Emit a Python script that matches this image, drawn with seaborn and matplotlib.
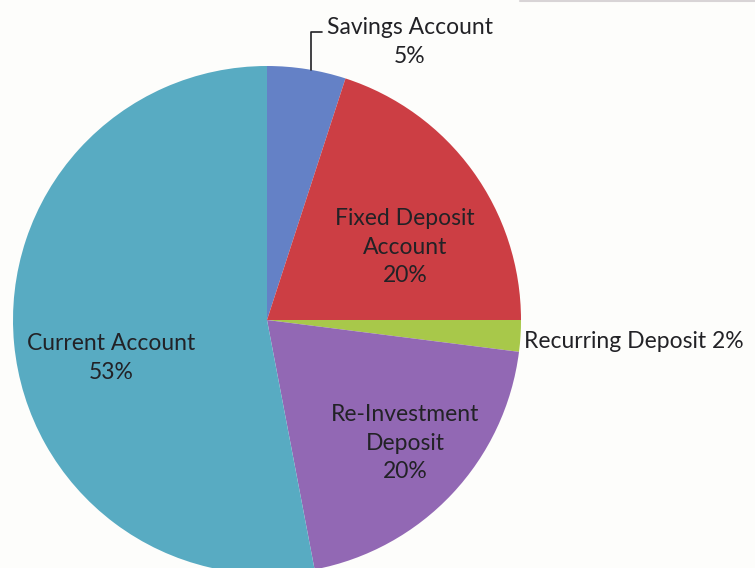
"""Account type share pie chart (scanned-look recreation)."""
import matplotlib
matplotlib.use("Agg")
import matplotlib.pyplot as plt
import seaborn as sns

# data
accounts = ["Savings Account", "Fixed Deposit Account", "Recurring Deposit",
            "Re-Investment Deposit", "Current Account"]
shares = [5, 20, 2, 20, 53]
colors = ["#6481c6", "#cc3e44", "#a8c84a", "#9268b4", "#58abc2"]

W, H = 755, 568
sns.set_theme(style="white")
plt.rcParams["font.family"] = ["Lato", "DejaVu Sans"]


def py(y):
    # pixel row (top-down) -> data y
    return H - y


fig = plt.figure(figsize=(W / 100, H / 100), dpi=100, facecolor="#fdfdfb")
ax = fig.add_axes([0, 0, 1, 1])
ax.set_facecolor("#fdfdfb")
ax.pie(shares, colors=colors, startangle=90, counterclock=False,
       center=(267, py(320)), radius=254,
       wedgeprops={"linewidth": 0, "antialiased": True}, frame=True)
ax.set_xlim(0, W)
ax.set_ylim(0, H)
ax.set_aspect("equal")
ax.axis("off")

txt = dict(color="#222226", fontsize=16.5, ha="center", va="center", linespacing=1.42)
ax.text(410, py(42), "Savings Account\n5%", **txt)
ax.text(405, py(247), "Fixed Deposit\nAccount\n20%", **txt)
ax.text(524, py(341), "Recurring Deposit 2%", **{**txt, "ha": "left"})
ax.text(405, py(443), "Re-Investment\nDeposit\n20%", **txt)
ax.text(111, py(358), "Current Account\n53%", **txt)

# leader line for the small slice
ax.plot([311, 311, 322], [py(70), py(32), py(32)], color="#222226", lw=1.2)

# faint scan artefact along the top-right edge
ax.plot([520, 755], [py(1), py(1)], color="#d8d4d6", lw=1.5)

fig.savefig("out.png", dpi=100, facecolor=fig.get_facecolor())
